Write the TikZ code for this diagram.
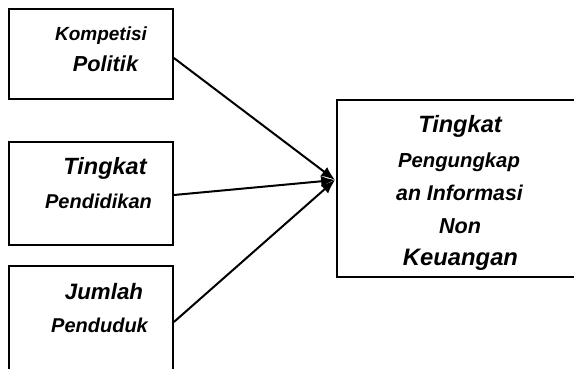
\documentclass[tikz,border=0pt]{standalone}
\usepackage{fontspec}
\setmainfont{Liberation Sans}
\usetikzlibrary{arrows.meta}

\newcommand{\fsz}[1]{\fontsize{#1}{#1}\selectfont\bfseries\itshape}

\tikzset{
  varbox/.style={draw, line width=1.8pt, inner sep=0pt},
  lbl/.style={anchor=base, inner sep=0pt},
  arr/.style={line width=2pt, -{Latex[length=14pt,width=11pt]}}
}

\begin{document}
\begin{tikzpicture}[x=1pt, y=1pt]

\useasboundingbox (0,0) rectangle (574,368);
\clip (0,0) rectangle (574,368);

% box top left
\node [varbox, minimum width=164pt, minimum height=90pt] (kp) at (91, 314) {};
\node [lbl] (kp1) at (101, 328) {\fsz{19}Kompetisi};
\node [lbl] (kp2) at (105.5, 297) {\fsz{21.7}Politik};

% box middle left
\node [varbox, minimum width=164pt, minimum height=103pt] (tp) at (91, 174.5) {};
\node [lbl] (tp1) at (105, 194) {\fsz{23.5}Tingkat};
\node [lbl] (tp2) at (98.5, 160) {\fsz{20}Pendidikan};

% box bottom left (runs off the page)
\node [varbox, minimum width=164pt, minimum height=108pt] (jp) at (91, 48) {};
\node [lbl] (jp1) at (104, 69) {\fsz{22.3}Jumlah};
\node [lbl] (jp2) at (99.5, 36) {\fsz{20}Penduduk};

% box right (runs off the page)
\node [varbox, minimum width=242pt, minimum height=177pt] (ip) at (458, 179.5) {};
\node [lbl] (ip1) at (460, 236) {\fsz{23.6}Tingkat};
\node [lbl] (ip2) at (459, 201) {\fsz{20.3}Pengungkap};
\node [lbl] (ip3) at (459.5, 168) {\fsz{21.3}an Informasi};
\node [lbl] (ip4) at (460, 135) {\fsz{21.6}Non};
\node [lbl] (ip5) at (460.5, 103) {\fsz{23.8}Keuangan};

\coordinate (tip) at ([xshift=-1pt, yshift=8.5pt]ip.west);

% arrows
\draw [arr] ([yshift=-4pt]kp.east) -- (tip);
\draw [arr] ([yshift=-1.5pt]tp.east) -- (tip);
\draw [arr] ([yshift=-2pt]jp.east) -- (tip);

\end{tikzpicture}
\end{document}
